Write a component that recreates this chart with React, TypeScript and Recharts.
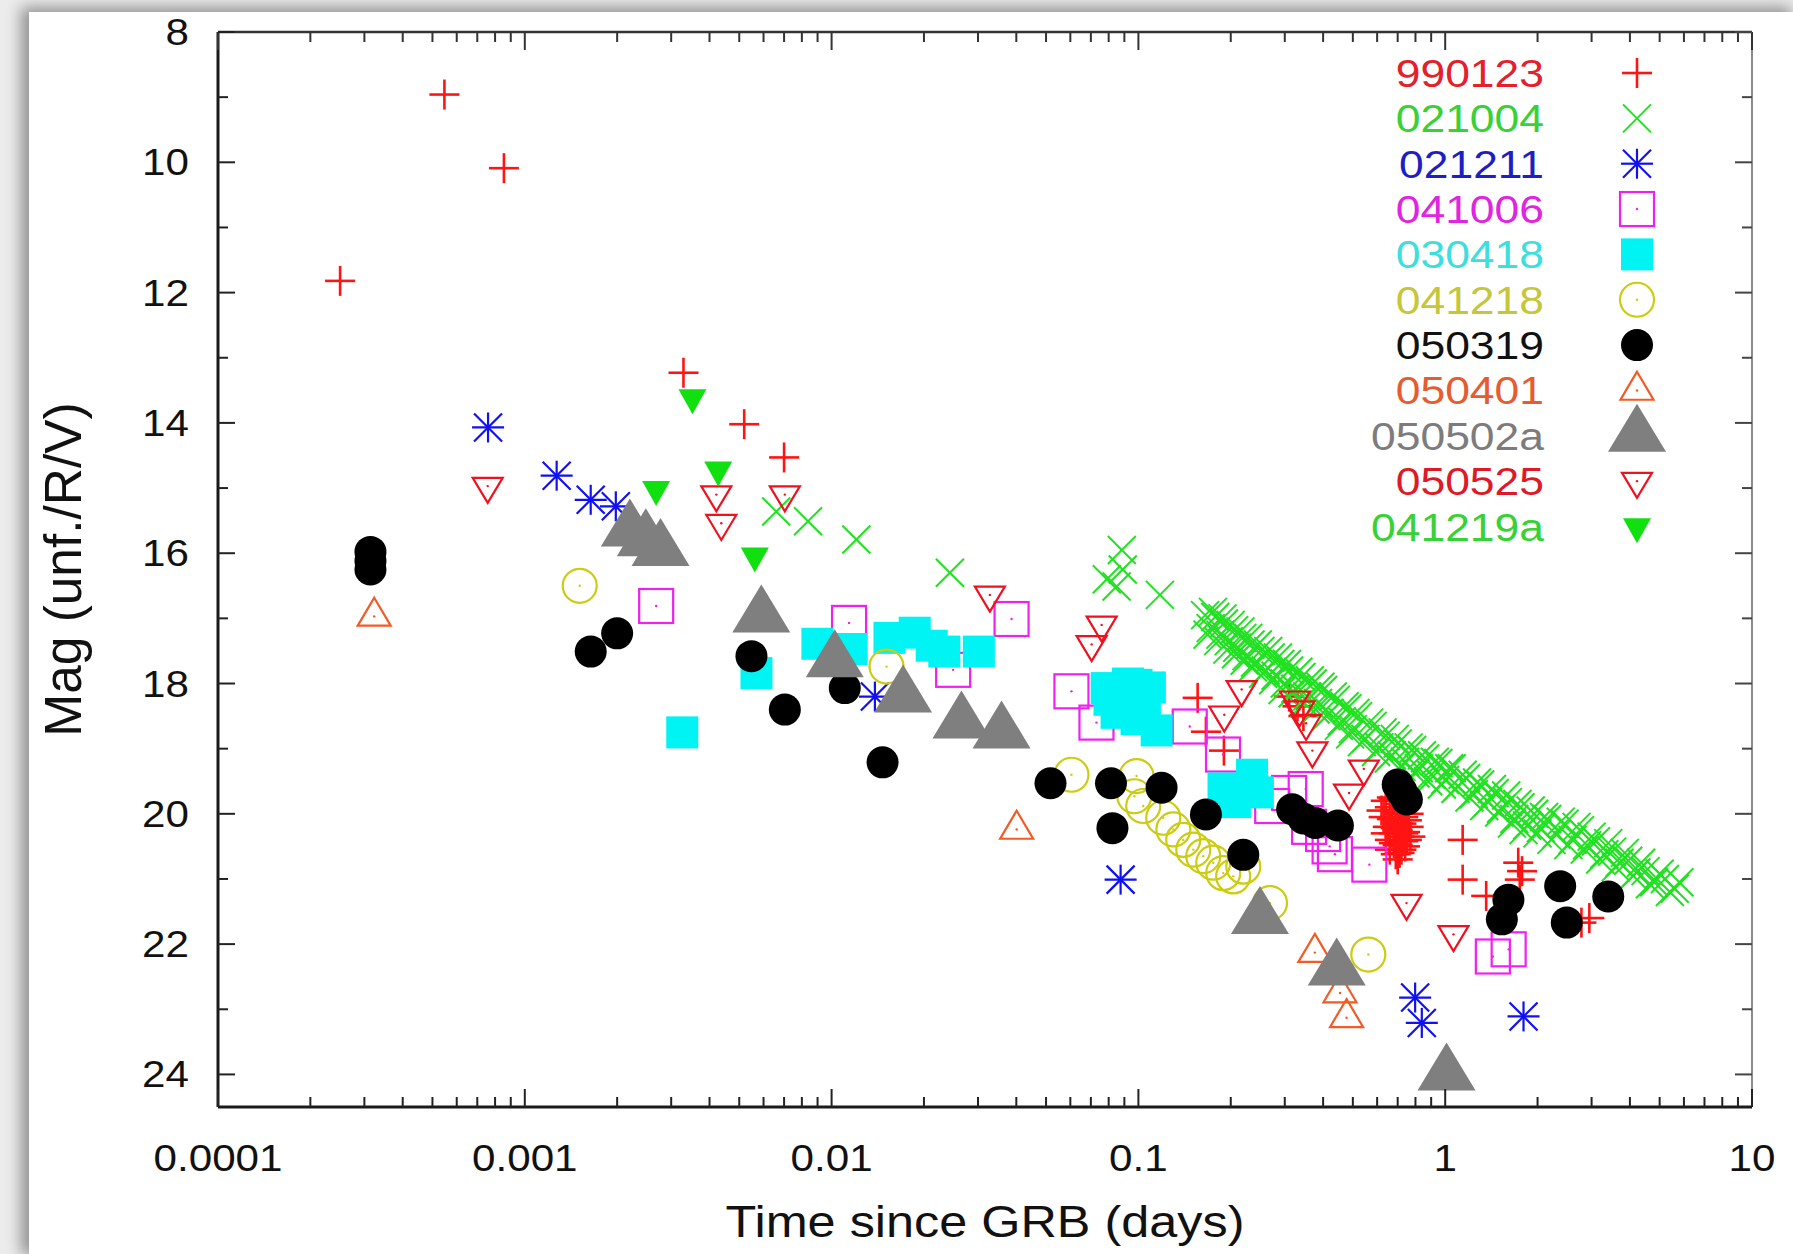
import React from 'react';
import { ScatterChart, Scatter, XAxis, YAxis, Legend } from 'recharts';

// ---------- data (time since GRB in days, magnitude) ----------
const GRB990123: [number, number][] = [
  [2.5e-4, 11.82], [5.47e-4, 8.96], [8.55e-4, 10.09], [3.29e-3, 13.23], [5.19e-3, 14.02], [7.0e-3, 14.53],
  [0.156, 18.22], [0.166, 18.74], [0.19, 19.03],
  [0.31, 18.2], [0.33, 18.35], [0.345, 18.5],
  [0.64, 19.8], [0.66, 19.9], [0.68, 19.78], [0.7, 20.0], [0.67, 20.08], [0.72, 20.15], [0.69, 20.22],
  [0.74, 20.28], [0.71, 20.35], [0.73, 20.42], [0.7, 20.48], [0.75, 20.1], [0.68, 20.3], [0.76, 20.0],
  [0.65, 20.2], [0.72, 20.55], [0.66, 20.4], [0.74, 19.9], [0.69, 20.62], [0.77, 20.35], [0.63, 20.05],
  [0.71, 19.85], [0.7, 20.7], [0.62, 19.95], [0.64, 20.3], [0.66, 20.55], [0.67, 19.75], [0.69, 19.95],
  [0.7, 20.25], [0.71, 20.6], [0.72, 19.95], [0.73, 20.05], [0.74, 20.5], [0.75, 20.4], [0.76, 20.2],
  [0.68, 20.45], [0.7, 20.15], [0.73, 20.3],
  [1.14, 20.4], [1.14, 21.01], [1.73, 20.75], [1.78, 20.88], [1.75, 21.01], [1.36, 21.26], [2.78, 21.67], [2.95, 21.6],
];
const GRB021004: [number, number][] = [
  [6.6e-3, 15.36], [8.38e-3, 15.51], [0.01204, 15.79], [0.0243, 16.3], [0.0789, 16.4], [0.0849, 16.51],
  [0.0883, 15.95], [0.0889, 16.25], [0.1175, 16.64],
  [0.165, 16.95], [0.172, 17.15], [0.178, 16.98], [0.185, 17.25], [0.19, 17.08], [0.197, 17.35], [0.205, 17.18],
  [0.21, 17.45], [0.218, 17.3], [0.225, 17.58], [0.232, 17.4], [0.24, 17.68], [0.25, 17.5], [0.26, 17.8],
  [0.27, 17.6], [0.28, 17.88], [0.29, 17.7], [0.3, 18.0], [0.31, 17.8], [0.325, 18.08], [0.34, 17.9],
  [0.355, 18.2], [0.37, 18.0], [0.385, 18.3], [0.4, 18.1], [0.42, 18.45], [0.44, 18.25], [0.46, 18.58],
  [0.48, 18.38], [0.5, 18.7], [0.52, 18.5], [0.55, 18.85], [0.58, 18.65], [0.61, 18.98], [0.64, 18.8],
  [0.67, 19.1], [0.7, 18.92], [0.74, 19.2], [0.78, 19.02], [0.82, 19.3], [0.86, 19.15], [0.9, 19.4],
  [0.95, 19.22], [1.0, 19.48], [1.05, 19.3], [1.1, 19.58], [1.17, 19.45], [1.24, 19.7], [1.3, 19.55],
  [1.38, 19.82], [1.45, 19.68], [1.52, 19.92], [1.6, 19.82], [1.68, 20.08], [1.76, 19.9], [1.85, 20.18],
  [1.95, 20.0], [2.05, 20.22], [2.15, 20.08], [2.3, 20.32], [2.45, 20.15], [2.6, 20.4], [2.75, 20.25],
  [2.9, 20.48], [3.1, 20.42], [3.3, 20.62], [3.5, 20.58], [3.7, 20.75], [3.95, 20.72], [4.2, 20.9],
  [4.5, 20.88], [4.8, 21.05], [5.2, 21.0], [5.6, 21.15],
  [0.168, 17.25], [0.175, 16.9], [0.182, 17.35], [0.188, 17.0], [0.195, 17.48], [0.2, 17.1], [0.208, 17.55],
  [0.215, 17.2], [0.222, 17.65], [0.228, 17.3], [0.236, 17.75], [0.245, 17.4], [0.255, 17.85], [0.265, 17.5],
  [0.275, 17.95], [0.285, 17.6], [0.295, 18.1], [0.305, 17.7], [0.318, 18.15], [0.332, 17.82], [0.348, 18.3],
  [0.362, 17.95], [0.378, 18.4], [0.392, 18.05], [0.41, 18.5], [0.43, 18.2], [0.45, 18.65], [0.47, 18.35],
  [0.49, 18.78], [0.51, 18.45], [0.535, 18.9], [0.565, 18.6], [0.595, 19.05], [0.625, 18.75], [0.655, 19.15],
  [0.685, 18.85], [0.72, 19.28], [0.76, 18.98], [0.8, 19.38], [0.84, 19.1], [0.88, 19.5], [0.925, 19.2],
  [0.975, 19.55], [1.03, 19.3], [1.08, 19.62], [1.14, 19.4], [1.2, 19.75], [1.27, 19.52], [1.34, 19.88],
  [1.42, 19.62], [1.5, 19.98], [1.58, 19.72], [1.65, 20.15], [1.72, 19.85], [1.8, 20.25], [1.9, 19.95],
  [2.0, 20.3], [2.1, 20.05], [2.22, 20.4], [2.38, 20.12], [2.52, 20.48], [2.68, 20.2], [2.85, 20.55],
  [3.0, 20.35], [3.2, 20.7], [3.4, 20.45], [3.6, 20.82], [3.85, 20.6], [4.1, 20.95], [4.35, 20.75],
  [4.65, 21.08], [5.0, 20.92], [5.4, 21.2], [5.8, 21.05],
];
const GRB021211: [number, number][] = [
  [7.59e-4, 14.07], [1.27e-3, 14.81], [1.64e-3, 15.18], [1.98e-3, 15.28], [0.01384, 18.2], [0.0875, 21.01],
  [0.798, 22.82], [0.839, 23.21], [1.8, 23.11],
];
const GRB041006: [number, number][] = [
  [2.68e-3, 16.81], [0.0114, 17.07], [0.0249, 17.79], [0.0386, 17.01], [0.0605, 18.12], [0.073, 18.6],
  [0.147, 18.66], [0.1887, 19.09], [0.273, 19.88], [0.31, 19.68], [0.351, 19.62], [0.36, 20.2], [0.4, 20.31],
  [0.42, 20.5], [0.437, 20.62], [0.566, 20.78], [1.43, 22.19], [1.61, 22.08],
];
const GRB030418: [number, number][] = [
  [3.26e-3, 18.75], [5.69e-3, 17.84], [8.99e-3, 17.39], [0.01163, 17.47], [0.01544, 17.3], [0.01866, 17.22],
  [0.0212, 17.42], [0.0233, 17.51], [0.0302, 17.51],
  [0.0788, 18.07], [0.0925, 18.0], [0.0986, 18.02], [0.109, 18.06], [0.0805, 18.25], [0.105, 18.35],
  [0.0849, 18.45], [0.0986, 18.55], [0.1147, 18.72],
  [0.1894, 19.61], [0.2347, 19.4], [0.2064, 19.82], [0.245, 19.67],
];
const GRB041218: [number, number][] = [
  [1.51e-3, 16.5], [0.0151, 17.74], [0.0605, 19.4], [0.0986, 19.42], [0.097, 19.73], [0.1037, 19.88],
  [0.1205, 20.06], [0.13, 20.24], [0.14, 20.4], [0.151, 20.55], [0.1627, 20.65], [0.1754, 20.75],
  [0.189, 20.91], [0.2037, 20.96], [0.2197, 20.81], [0.2685, 21.37], [0.5615, 22.16],
];
const GRB050319: [number, number][] = [
  [3.14e-4, 15.98], [3.14e-4, 16.12], [3.14e-4, 16.25], [1.64e-3, 17.51], [2.0e-3, 17.23], [5.48e-3, 17.58],
  [7.04e-3, 18.4], [0.01104, 18.07], [0.01466, 19.21], [0.0517, 19.53], [0.0814, 19.53], [0.0823, 20.22],
  [0.119, 19.6], [0.166, 20.01], [0.2197, 20.63], [0.317, 19.93], [0.345, 20.07], [0.377, 20.14],
  [0.447, 20.18], [0.7, 19.55], [0.72, 19.65], [0.75, 19.78], [1.607, 21.32], [1.53, 21.62], [2.37, 21.11],
  [3.4, 21.27], [2.49, 21.67],
];
const GRB050401: [number, number][] = [
  [3.23e-4, 16.97], [0.0401, 20.24], [0.376, 22.13], [0.454, 22.75], [0.477, 23.13],
];
const GRB050502a: [number, number][] = [
  [2.2e-3, 15.65], [2.48e-3, 15.8], [2.77e-3, 15.95], [5.9e-3, 16.97], [0.01024, 17.66], [0.0171, 18.2],
  [0.0265, 18.6], [0.0358, 18.75], [0.249, 21.6], [0.443, 22.39], [1.01, 24.0],
];
const GRB050525: [number, number][] = [
  [7.57e-4, 14.97], [4.21e-3, 15.1], [4.37e-3, 15.54], [7.04e-3, 15.1], [0.0328, 16.64], [0.0759, 17.1],
  [0.0704, 17.4], [0.217, 18.09], [0.1905, 18.48], [0.324, 18.25], [0.335, 18.4], [0.352, 18.61],
  [0.369, 19.03], [0.543, 19.31], [0.486, 19.68], [0.748, 21.37], [1.064, 21.85],
];
const GRB041219a: [number, number][] = [
  [3.52e-3, 13.61], [2.68e-3, 15.02], [4.27e-3, 14.72], [5.62e-3, 16.04],
];

const X_MAJOR = [0.0001, 0.001, 0.01, 0.1, 1, 10];
const X_LABELS = ['0.0001', '0.001', '0.01', '0.1', '1', '10'];
const X_MINOR_MULT = [2, 3, 4, 5, 6, 7, 8, 9];
const Y_TICKS = [8, 9, 10, 11, 12, 13, 14, 15, 16, 17, 18, 19, 20, 21, 22, 23, 24];
const Y_LABELED = [8, 10, 12, 14, 16, 18, 20, 22, 24];

type Kind = 'plus' | 'cross' | 'star' | 'square' | 'fsquare' | 'circle' | 'fcircle' | 'tri' | 'bigtri' | 'itri' | 'fitri';

const SERIES: { name: string; data: [number, number][]; color: string; text: string; kind: Kind }[] = [
  { name: '990123', data: GRB990123, color: '#ff1414', text: '#e3202c', kind: 'plus' },
  { name: '021004', data: GRB021004, color: '#22e022', text: '#36d236', kind: 'cross' },
  { name: '021211', data: GRB021211, color: '#1010f0', text: '#1e1ec4', kind: 'star' },
  { name: '041006', data: GRB041006, color: '#f020f0', text: '#e024e0', kind: 'square' },
  { name: '030418', data: GRB030418, color: '#00f4f4', text: '#3cdede', kind: 'fsquare' },
  { name: '041218', data: GRB041218, color: '#cccc10', text: '#c6c63a', kind: 'circle' },
  { name: '050319', data: GRB050319, color: '#000000', text: '#111111', kind: 'fcircle' },
  { name: '050401', data: GRB050401, color: '#f25a26', text: '#e65c30', kind: 'tri' },
  { name: '050502a', data: GRB050502a, color: '#7f7f7f', text: '#7c7c7c', kind: 'bigtri' },
  { name: '050525', data: GRB050525, color: '#f01020', text: '#de1a28', kind: 'itri' },
  { name: '041219a', data: GRB041219a, color: '#10e010', text: '#36d236', kind: 'fitri' },
];

// ---------- layout ----------
const W = 1793;
const H = 1254;
const PL = 218;
const PR = 1752;
const PT = 32;
const PB = 1107;
const FONT = '"Liberation Sans", Arial, Helvetica, sans-serif';
const SX = 1.14;

const isMajorX = (v: number) => X_MAJOR.findIndex((m) => Math.abs(Math.log10(m) - Math.log10(v)) < 1e-6);

const X_ALL: number[] = [];
X_MAJOR.forEach((m, i) => {
  X_ALL.push(m);
  if (i < X_MAJOR.length - 1) X_MINOR_MULT.forEach((k) => X_ALL.push(m * k));
});

function Marker({ kind, cx, cy, color }: { kind: Kind; cx: number; cy: number; color: string }) {
  const sw = 2.2;
  const dot = <circle cx={cx} cy={cy} r={1.2} fill={color} />;
  switch (kind) {
    case 'plus':
      return (
        <g stroke={color} strokeWidth={2.6}>
          <line x1={cx - 15} y1={cy} x2={cx + 15} y2={cy} />
          <line x1={cx} y1={cy - 15} x2={cx} y2={cy + 15} />
        </g>
      );
    case 'cross':
      return (
        <g stroke={color} strokeWidth={2}>
          <line x1={cx - 14} y1={cy - 14} x2={cx + 14} y2={cy + 14} />
          <line x1={cx - 14} y1={cy + 14} x2={cx + 14} y2={cy - 14} />
        </g>
      );
    case 'star':
      return (
        <g stroke={color} strokeWidth={2.2}>
          <line x1={cx - 16} y1={cy} x2={cx + 16} y2={cy} />
          <line x1={cx} y1={cy - 15} x2={cx} y2={cy + 15} />
          <line x1={cx - 14} y1={cy - 14} x2={cx + 14} y2={cy + 14} />
          <line x1={cx - 14} y1={cy + 14} x2={cx + 14} y2={cy - 14} />
        </g>
      );
    case 'square':
      return (
        <g>
          <rect x={cx - 17} y={cy - 17} width={34} height={34} fill="none" stroke={color} strokeWidth={sw} />
          {dot}
        </g>
      );
    case 'fsquare':
      return <rect x={cx - 16} y={cy - 16} width={32} height={32} fill={color} />;
    case 'circle':
      return (
        <g>
          <circle cx={cx} cy={cy} r={17} fill="none" stroke={color} strokeWidth={sw} />
          {dot}
        </g>
      );
    case 'fcircle':
      return <circle cx={cx} cy={cy} r={16} fill={color} />;
    case 'tri':
      return (
        <g>
          <polygon
            points={`${cx},${cy - 18.7} ${cx + 16.5},${cy + 9.3} ${cx - 16.5},${cy + 9.3}`}
            fill="none"
            stroke={color}
            strokeWidth={sw}
          />
          {dot}
        </g>
      );
    case 'bigtri':
      return <polygon points={`${cx},${cy - 32} ${cx + 29},${cy + 16} ${cx - 29},${cy + 16}`} fill={color} />;
    case 'itri':
      return (
        <g>
          <polygon
            points={`${cx - 15},${cy - 8.3} ${cx + 15},${cy - 8.3} ${cx},${cy + 16.7}`}
            fill="none"
            stroke={color}
            strokeWidth={sw}
          />
          {dot}
        </g>
      );
    case 'fitri':
      return <polygon points={`${cx - 14},${cy - 8.3} ${cx + 14},${cy - 8.3} ${cx},${cy + 16.7}`} fill={color} />;
  }
  return null;
}

const BottomTick = (props: any) => {
  const { x, payload } = props;
  const idx = isMajorX(payload.value);
  const major = idx >= 0;
  return (
    <g>
      <line x1={x} x2={x} y1={PB} y2={PB - (major ? 18 : 10)} stroke="#222" strokeWidth={2} />
      {major && (
        <text
          transform={`translate(${x},1171) scale(${SX},1)`}
          textAnchor="middle"
          fontFamily={FONT}
          fontSize={37}
          fill="#111"
        >
          {X_LABELS[idx]}
        </text>
      )}
    </g>
  );
};

const TopTick = (props: any) => {
  const { x, payload } = props;
  const major = isMajorX(payload.value) >= 0;
  return <line x1={x} x2={x} y1={PT} y2={PT + (major ? 18 : 10)} stroke="#333" strokeWidth={2} />;
};

const LeftTick = (props: any) => {
  const { y, payload } = props;
  const major = Y_LABELED.includes(payload.value);
  return (
    <g>
      <line x1={PL} x2={PL + (major ? 17 : 10)} y1={y} y2={y} stroke="#222" strokeWidth={2} />
      {major && (
        <text
          transform={`translate(189,${y + 13}) scale(${SX},1)`}
          textAnchor="end"
          fontFamily={FONT}
          fontSize={37}
          fill="#111"
        >
          {String(payload.value)}
        </text>
      )}
    </g>
  );
};

const RightTick = (props: any) => {
  const { y, payload } = props;
  const major = Y_LABELED.includes(payload.value);
  return <line x1={PR} x2={PR - (major ? 17 : 10)} y1={y} y2={y} stroke="#444" strokeWidth={2} />;
};

const XTitle = (props: any) => {
  const vb = props.viewBox || { x: PL, width: PR - PL };
  const cx = vb.x + vb.width / 2;
  return (
    <text
      transform={`translate(${cx},1237) scale(1.12,1)`}
      textAnchor="middle"
      fontFamily={FONT}
      fontSize={45}
      fill="#111"
    >
      Time since GRB (days)
    </text>
  );
};

const YTitle = (props: any) => {
  const vb = props.viewBox || { y: PT, height: PB - PT };
  const cy = vb.y + vb.height / 2;
  return (
    <text
      transform={`translate(81,${cy}) rotate(-90) scale(1.05,1.04)`}
      textAnchor="middle"
      fontFamily={FONT}
      fontSize={49}
      fill="#111"
    >
      Mag (unf./R/V)
    </text>
  );
};

const LEG_Y0 = 73;
const LEG_DY = 45.35;
const LEG_TEXT_X = 1544;
const LEG_SYM_X = 1637;

const LegendContent = () => (
  <svg width={W} height={560} style={{ position: 'absolute', left: 0, top: 0, overflow: 'visible' }}>
    {SERIES.map((s, i) => {
      const cy = LEG_Y0 + i * LEG_DY;
      return (
        <g key={s.name}>
          <text
            transform={`translate(${LEG_TEXT_X},${cy + 14}) scale(${SX},1)`}
            textAnchor="end"
            fontFamily={FONT}
            fontSize={39}
            fill={s.text}
          >
            {s.name}
          </text>
          <Marker kind={s.kind} cx={LEG_SYM_X} cy={cy} color={s.color} />
        </g>
      );
    })}
  </svg>
);

export default function App() {
  const seriesData = SERIES.map((s) => ({ ...s, pts: s.data.map(([t, mag]) => ({ t, mag })) }));
  return (
    <div style={{ position: 'absolute', left: 0, top: 0, width: W, height: H, background: '#ececec', overflow: 'hidden' }}>
      <div
        style={{
          position: 'absolute',
          left: 29,
          top: 12,
          width: W - 29,
          height: H - 12,
          background: '#ffffff',
          boxShadow: '-5px -2px 14px 3px rgba(0,0,0,0.38)',
        }}
      />
      <div style={{ position: 'absolute', left: 0, top: 0, width: W, height: H }}>
        <ScatterChart width={W} height={H} margin={{ left: PL - 1, right: W - PR - 1, top: PT - 1, bottom: H - PB - 1 }}>
          <XAxis
            xAxisId="main"
            dataKey="t"
            type="number"
            scale="log"
            domain={[0.0001, 10]}
            allowDataOverflow
            ticks={X_ALL}
            interval={0}
            height={1}
            tickLine={false}
            axisLine={{ stroke: '#1a1a1a', strokeWidth: 3 }}
            tick={<BottomTick />}
            label={<XTitle />}
          />
          <XAxis
            xAxisId="top"
            orientation="top"
            dataKey="t"
            type="number"
            scale="log"
            domain={[0.0001, 10]}
            allowDataOverflow
            ticks={X_ALL}
            interval={0}
            height={1}
            tickLine={false}
            axisLine={{ stroke: '#333', strokeWidth: 2.5 }}
            tick={<TopTick />}
          />
          <YAxis
            yAxisId="main"
            dataKey="mag"
            type="number"
            domain={[8, 24.5]}
            reversed
            allowDataOverflow
            ticks={Y_TICKS}
            interval={0}
            width={1}
            tickLine={false}
            axisLine={{ stroke: '#1a1a1a', strokeWidth: 3 }}
            tick={<LeftTick />}
            label={<YTitle />}
          />
          <YAxis
            yAxisId="right"
            orientation="right"
            dataKey="mag"
            type="number"
            domain={[8, 24.5]}
            reversed
            allowDataOverflow
            ticks={Y_TICKS}
            interval={0}
            width={1}
            tickLine={false}
            axisLine={{ stroke: '#8a8a8a', strokeWidth: 2 }}
            tick={<RightTick />}
          />
          {seriesData.map((s) => (
            <Scatter
              key={s.name}
              name={s.name}
              data={s.pts}
              xAxisId="main"
              yAxisId="main"
              fill={s.color}
              isAnimationActive={false}
              shape={(p: any) => <Marker kind={s.kind} cx={p.cx} cy={p.cy} color={s.color} />}
            />
          ))}
          <Legend
            layout="vertical"
            align="center"
            verticalAlign="middle"
            content={<LegendContent />}
            wrapperStyle={{ position: 'absolute', left: 0, top: 0, width: W, height: 560, pointerEvents: 'none' }}
          />
        </ScatterChart>
      </div>
    </div>
  );
}
